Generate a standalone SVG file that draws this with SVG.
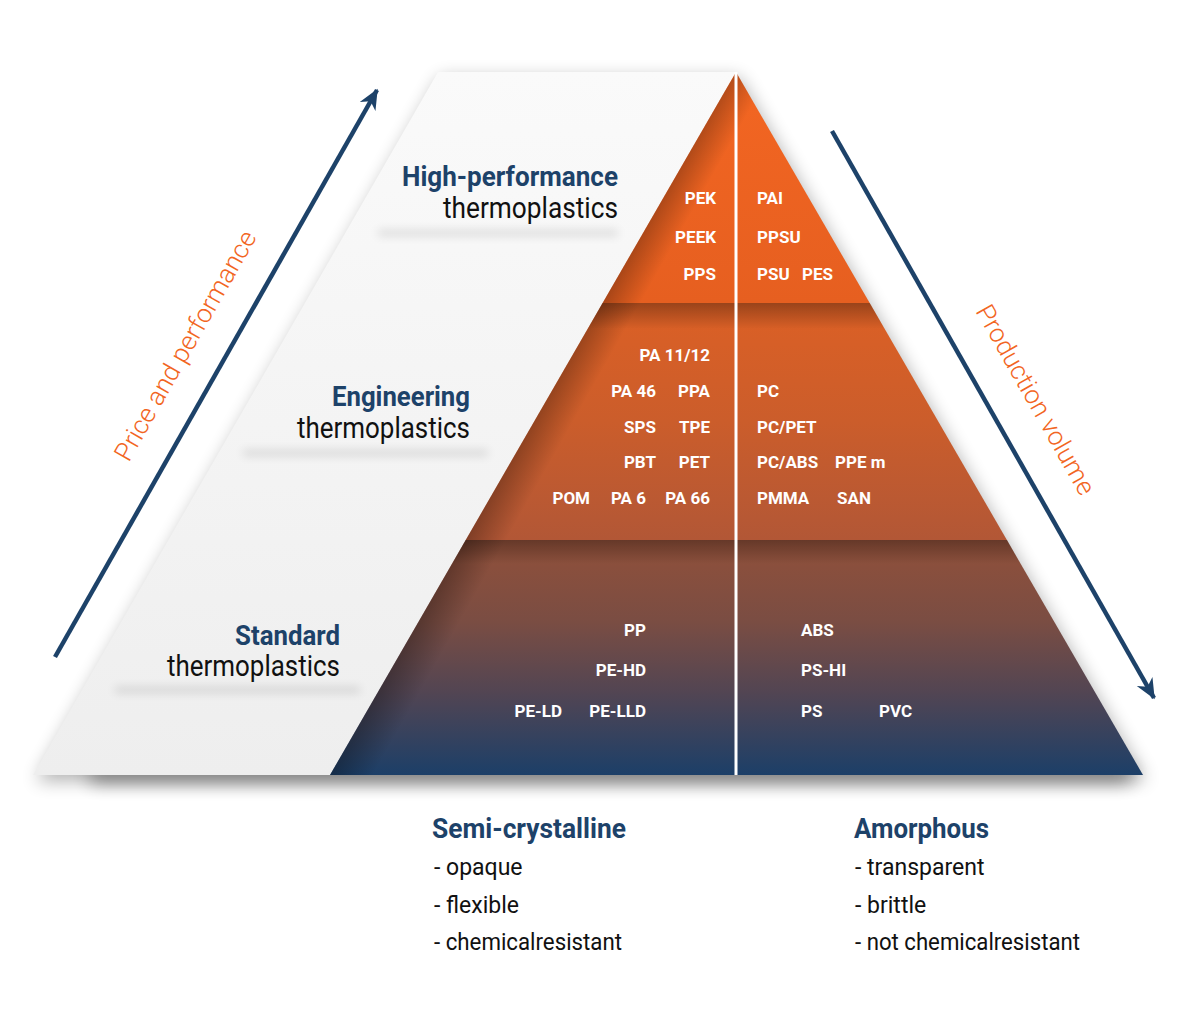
<svg xmlns="http://www.w3.org/2000/svg" width="1200" height="1026" viewBox="0 0 1200 1026">
<style>
.lbl{font-family:Roboto,"Liberation Sans",sans-serif;font-weight:700;font-size:17px;fill:#fff}
.hd{font-family:Roboto,"Liberation Sans",sans-serif;font-weight:700;font-size:28px;fill:#1d4269}
.sub{font-family:Roboto,"Liberation Sans",sans-serif;font-weight:400;font-size:29px;fill:#111}
.axis{font-family:Roboto,"Liberation Sans",sans-serif;font-weight:300;font-size:26px;fill:#f26522}
.item{font-family:Roboto,"Liberation Sans",sans-serif;font-weight:400;font-size:23px;fill:#111}
.arrow{stroke:#1d4269;stroke-width:4.5;fill:none}
.end{text-anchor:end}
</style>
<defs>
<filter id="blur8" x="-20%" y="-20%" width="140%" height="140%"><feGaussianBlur stdDeviation="9"/></filter>
<filter id="blurB" x="-10%" y="-300%" width="120%" height="700%"><feGaussianBlur stdDeviation="9"/></filter>
<filter id="blur4" x="-20%" y="-300%" width="140%" height="700%"><feGaussianBlur stdDeviation="5"/></filter>
<linearGradient id="gPar" x1="0" y1="72" x2="0" y2="775" gradientUnits="userSpaceOnUse">
<stop offset="0" stop-color="#fafafa"/><stop offset="1" stop-color="#eeeeee"/>
</linearGradient>
<linearGradient id="gB1" x1="0" y1="72" x2="0" y2="303" gradientUnits="userSpaceOnUse">
<stop offset="0" stop-color="#f36622"/><stop offset="1" stop-color="#e65f20"/>
</linearGradient>
<linearGradient id="gB2" x1="0" y1="303" x2="0" y2="540" gradientUnits="userSpaceOnUse">
<stop offset="0" stop-color="#dc6025"/><stop offset="0.5" stop-color="#cb5d2b"/><stop offset="1" stop-color="#b25736"/>
</linearGradient>
<linearGradient id="gB3" x1="0" y1="540" x2="0" y2="775" gradientUnits="userSpaceOnUse">
<stop offset="0" stop-color="#91503a"/><stop offset="0.35" stop-color="#7a4d43"/><stop offset="0.65" stop-color="#524553"/><stop offset="1" stop-color="#1c3f68"/>
</linearGradient>
<linearGradient id="gSh" x1="0" y1="0" x2="0" y2="1">
<stop offset="0" stop-color="#000" stop-opacity="0.3"/><stop offset="1" stop-color="#000" stop-opacity="0"/>
</linearGradient>
<linearGradient id="gEdge" x1="533" y1="423" x2="563" y2="440" gradientUnits="userSpaceOnUse">
<stop offset="0" stop-color="#000" stop-opacity="0.28"/><stop offset="1" stop-color="#000" stop-opacity="0"/>
</linearGradient>
<clipPath id="triClip"><polygon points="736,72 1143,775 330,775"/></clipPath>
<marker id="head" markerWidth="26" markerHeight="22" viewBox="-21 -11 23 22" refX="0" refY="0" orient="auto" markerUnits="userSpaceOnUse">
<path d="M1.5,0 L-19,-9 L-13,0 L-19,9 Z" fill="#1d4269"/>
</marker>
</defs>
<rect width="1200" height="1026" fill="#fff"/>
<g id="shadow">
<polygon points="33,775 438,72 736,72 1143,775" fill="#000" opacity="0.3" filter="url(#blur8)" transform="translate(3,6)"/>
<rect x="90" y="768" width="1040" height="14" fill="#000" opacity="0.45" filter="url(#blurB)"/>
</g>
<g id="backdrop">
<polygon points="33,775 438,72 736,72 330,775" fill="url(#gPar)"/>
<rect x="378" y="230" width="240" height="6" fill="#000" opacity="0.12" filter="url(#blur4)"/>
<rect x="243" y="450" width="245" height="6" fill="#000" opacity="0.12" filter="url(#blur4)"/>
<rect x="115" y="687" width="245" height="6" fill="#000" opacity="0.12" filter="url(#blur4)"/>
</g>
<g id="pyramid">
<polygon points="736,72 869.7,303 602.6,303" fill="url(#gB1)"/>
<polygon points="602.6,303 869.7,303 1006.9,540 465.7,540" fill="url(#gB2)"/>
<polygon points="465.7,540 1006.9,540 1143,775 330,775" fill="url(#gB3)"/>
<g clip-path="url(#triClip)">
<rect x="300" y="303" width="900" height="26" fill="url(#gSh)"/>
<rect x="300" y="540" width="900" height="24" fill="url(#gSh)"/>
<polygon points="736,72 330,775 600,775 900,72" fill="url(#gEdge)"/>
</g>
<line x1="736" y1="72" x2="736" y2="775" stroke="#fff" stroke-width="3"/>
</g>
<g id="connectors">
<line class="arrow" x1="55" y1="657" x2="377" y2="90" marker-end="url(#head)"/>
<line class="arrow" x1="832" y1="131" x2="1154" y2="698" marker-end="url(#head)"/>
</g>
<g id="axis-price"><text class="axis" text-anchor="middle" transform="translate(193,350) rotate(-60.4)">Price and performance</text></g>
<g id="axis-volume"><text class="axis" text-anchor="middle" transform="translate(1028,404) rotate(60.4)">Production volume</text></g>
<g id="tier-high">
<text class="hd" x="402" y="186" textLength="216" lengthAdjust="spacingAndGlyphs">High-performance</text>
<text class="sub" x="443" y="218" textLength="175" lengthAdjust="spacingAndGlyphs">thermoplastics</text>
</g>
<g id="tier-engineering">
<text class="hd" x="332" y="406" textLength="138" lengthAdjust="spacingAndGlyphs">Engineering</text>
<text class="sub" x="297" y="438" textLength="173" lengthAdjust="spacingAndGlyphs">thermoplastics</text>
</g>
<g id="tier-standard">
<text class="hd" x="235" y="645" textLength="105" lengthAdjust="spacingAndGlyphs">Standard</text>
<text class="sub" x="167" y="676" textLength="173" lengthAdjust="spacingAndGlyphs">thermoplastics</text>
</g>
<g id="materials-high">
<text class="lbl end" x="716" y="204">PEK</text>
<text class="lbl end" x="716" y="243">PEEK</text>
<text class="lbl end" x="716" y="280">PPS</text>
<text class="lbl" x="757" y="204">PAI</text>
<text class="lbl" x="757" y="243">PPSU</text>
<text class="lbl" x="757" y="280">PSU</text>
<text class="lbl" x="802" y="280">PES</text>
</g>
<g id="materials-engineering">
<text class="lbl end" x="710" y="361">PA 11/12</text>
<text class="lbl end" x="656" y="397">PA 46</text>
<text class="lbl end" x="710" y="397">PPA</text>
<text class="lbl end" x="656" y="433">SPS</text>
<text class="lbl end" x="710" y="433">TPE</text>
<text class="lbl end" x="656" y="468">PBT</text>
<text class="lbl end" x="710" y="468">PET</text>
<text class="lbl end" x="590" y="504">POM</text>
<text class="lbl end" x="646" y="504">PA 6</text>
<text class="lbl end" x="710" y="504">PA 66</text>
<text class="lbl" x="757" y="397">PC</text>
<text class="lbl" x="757" y="433">PC/PET</text>
<text class="lbl" x="757" y="468">PC/ABS</text>
<text class="lbl" x="835" y="468">PPE m</text>
<text class="lbl" x="757" y="504">PMMA</text>
<text class="lbl" x="837" y="504">SAN</text>
</g>
<g id="materials-standard">
<text class="lbl end" x="646" y="636">PP</text>
<text class="lbl end" x="646" y="676">PE-HD</text>
<text class="lbl end" x="562" y="717">PE-LD</text>
<text class="lbl end" x="646" y="717">PE-LLD</text>
<text class="lbl" x="801" y="636">ABS</text>
<text class="lbl" x="801" y="676">PS-HI</text>
<text class="lbl" x="801" y="717">PS</text>
<text class="lbl" x="879" y="717">PVC</text>
</g>
<g id="semi-crystalline">
<text class="hd" x="432" y="838" textLength="194" lengthAdjust="spacingAndGlyphs">Semi-crystalline</text>
<text class="item" x="434" y="875">- opaque</text>
<text class="item" x="434" y="913">- flexible</text>
<text class="item" x="434" y="950" textLength="188" lengthAdjust="spacingAndGlyphs">- chemicalresistant</text>
</g>
<g id="amorphous">
<text class="hd" x="854" y="838" textLength="135" lengthAdjust="spacingAndGlyphs">Amorphous</text>
<text class="item" x="855" y="875">- transparent</text>
<text class="item" x="855" y="913">- brittle</text>
<text class="item" x="855" y="950" textLength="225" lengthAdjust="spacingAndGlyphs">- not chemicalresistant</text>
</g>
</svg>
